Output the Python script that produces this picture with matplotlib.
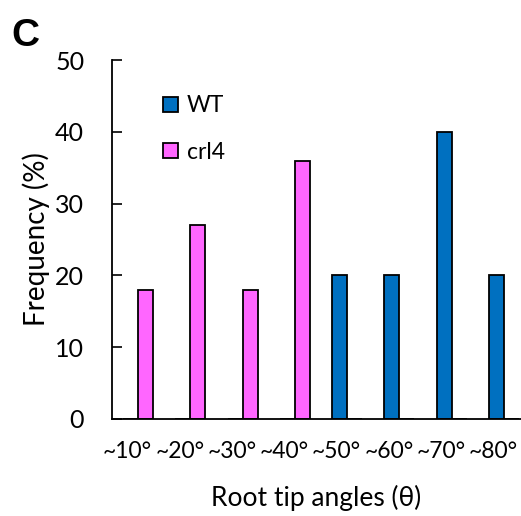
import matplotlib
matplotlib.use("Agg")
import matplotlib.pyplot as plt
import numpy as np

categories = ["~10°", "~20°", "~30°", "~40°", "~50°", "~60°", "~70°", "~80°"]
wt = [0, 0, 0, 0, 20, 20, 40, 20]
crl4 = [18, 27, 18, 36, 0, 0, 0, 0]
yticks = [0, 10, 20, 30, 40, 50]

plt.rcParams['font.family'] = ['Lato', 'DejaVu Sans']

fig = plt.figure(figsize=(5.21, 5.16), dpi=100)
ax = fig.add_axes([112/521, (516-419)/516, 1 - 112/521, (419-60)/516])

x = np.arange(len(categories))
w = 0.287
blue = "#0070C0"
pink = "#FF66FF"
ax.bar(x - w/2, wt, w, color=blue, edgecolor="black", linewidth=1.3, label="WT")
ax.bar(x + w/2, crl4, w, color=pink, edgecolor="black", linewidth=1.3, label="crl4")

ax.set_xlim(-0.5, 7.33)
ax.set_ylim(0, 50)
ax.set_yticks(yticks)
ax.tick_params(axis='y', direction='in', length=7, width=1.2, labelsize=18, pad=20)
ax.set_xticks(x - 0.2)
ax.set_xticklabels(categories)
ax.tick_params(axis='x', length=0, labelsize=16.5, pad=16)
for s in ['top', 'right']:
    ax.spines[s].set_visible(False)
ax.spines['left'].set_linewidth(1.3)
ax.spines['bottom'].set_linewidth(1.3)

ax.set_ylabel("Frequency (%)", fontsize=20, labelpad=3.5)
ax.set_xlabel("Root tip angles (θ)", fontsize=19, labelpad=16)

leg = ax.legend(loc='upper left', bbox_to_anchor=(0.102, 0.927), frameon=False,
                handlelength=0.65, handleheight=0.65, labelspacing=1.1,
                handletextpad=0.4, fontsize=16.5, borderaxespad=0)

fig.text(11/521, 1 - 46/516, "C", fontsize=28, fontweight='bold', family='Liberation Sans')

fig.savefig("out.png", dpi=100)
